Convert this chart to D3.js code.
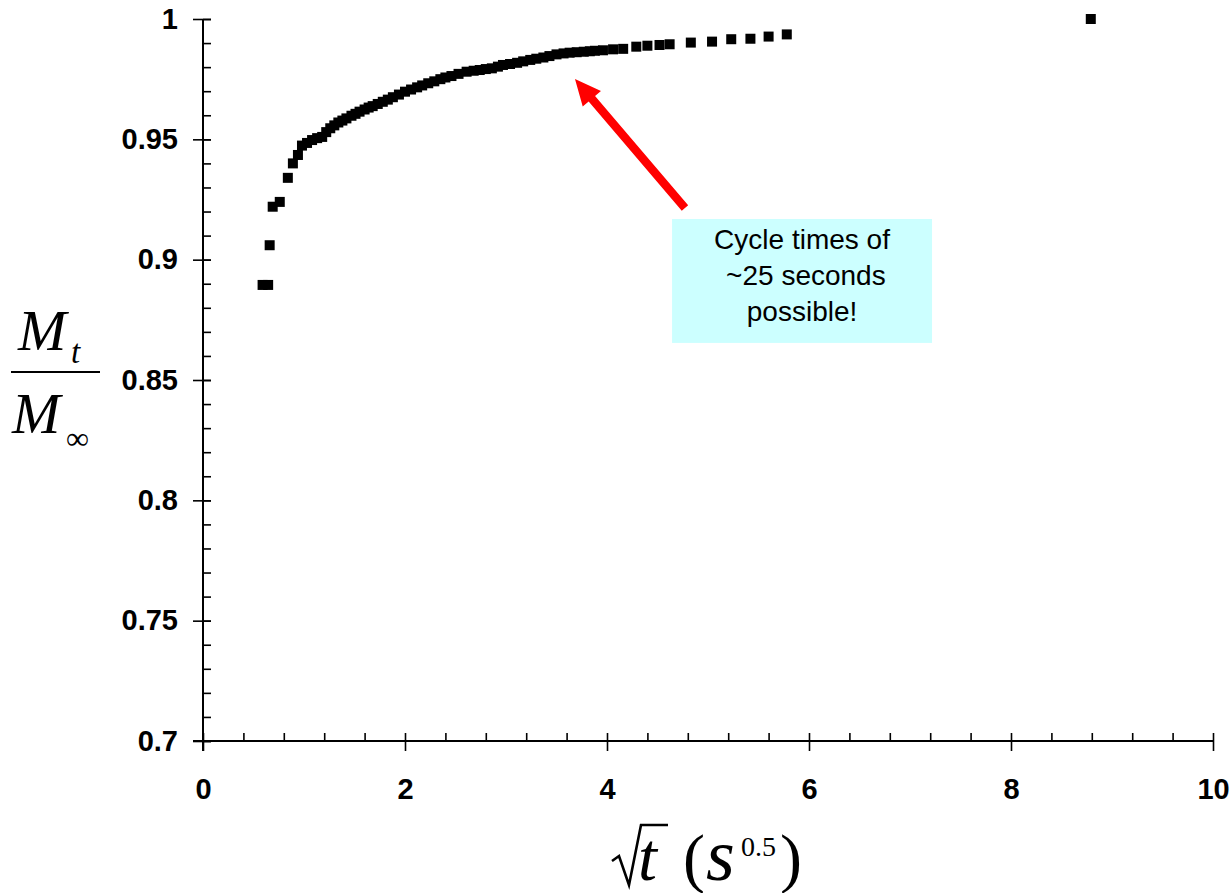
<!DOCTYPE html>
<html>
<head>
<meta charset="utf-8">
<script src="https://cdn.jsdelivr.net/npm/d3@7"></script>
<style>
  body { margin: 0; background: #fff; }
  .tickText { font-family: "Liberation Sans", Arial, sans-serif; font-weight: bold; font-size: 29px; fill: #000; }
  .note { font-family: "Liberation Sans", Arial, sans-serif; font-size: 28px; fill: #000; white-space: pre; }
  .math { font-family: "Liberation Serif", "Times New Roman", serif; fill: #000; }
</style>
</head>
<body>
<div id="chart"></div>
<script>
// sqrt(t) readings (s^0.5)
var sqrtT = [0.59, 0.645, 0.66, 0.69, 0.76, 0.84, 0.89, 0.94, 0.98, 1.03,
  1.08, 1.13, 1.18, 1.22, 1.26, 1.30, 1.34, 1.38, 1.42, 1.47,
  1.51, 1.55, 1.60, 1.64, 1.68, 1.73, 1.78, 1.83, 1.88, 1.94,
  2.00, 2.06, 2.12, 2.17, 2.23, 2.29, 2.35, 2.40, 2.46, 2.53,
  2.61, 2.68, 2.74, 2.80, 2.86, 2.92, 2.97, 3.04, 3.11, 3.17,
  3.24, 3.30, 3.37, 3.43, 3.50, 3.57, 3.63, 3.70, 3.77, 3.83,
  3.88, 3.96, 4.06, 4.16, 4.29, 4.40, 4.52, 4.62, 4.83, 5.04,
  5.23, 5.42, 5.60, 5.78, 8.79];

// Mt / Minf readings
var fracUptake = [0.8895, 0.8895, 0.906, 0.922, 0.924, 0.934, 0.940, 0.9435, 0.9474, 0.9485,
  0.9497, 0.9505, 0.951, 0.953, 0.9546, 0.9558, 0.957, 0.9578, 0.9587, 0.9598,
  0.9606, 0.9615, 0.9624, 0.9632, 0.9638, 0.9647, 0.9656, 0.9665, 0.9675, 0.9686,
  0.9698, 0.9707, 0.9716, 0.9724, 0.9733, 0.9741, 0.975, 0.9757, 0.9763, 0.9772,
  0.9781, 0.9785, 0.9788, 0.9792, 0.9795, 0.9802, 0.9809, 0.9813, 0.9818, 0.9824,
  0.983, 0.9835, 0.984, 0.9846, 0.9853, 0.9857, 0.986, 0.9862, 0.9864, 0.9866,
  0.9868, 0.987, 0.9874, 0.9876, 0.9885, 0.9889, 0.9892, 0.9895, 0.9902, 0.9906,
  0.9916, 0.9918, 0.9927, 0.9936, 1.0];

// ticks
var xMajor = [0, 2, 4, 6, 8, 10];
var xLabels = ["0", "2", "4", "6", "8", "10"];
var yMajor = [0.7, 0.75, 0.8, 0.85, 0.9, 0.95, 1];
var yLabels = ["0.7", "0.75", "0.8", "0.85", "0.9", "0.95", "1"];

// annotation text
var noteLines = ["Cycle times of", " ~25 seconds", "possible!"];

var width = 1230;
var height = 893;

var svg = d3.select("#chart")
  .append("svg")
  .attr("width", width)
  .attr("height", height);

var xScale = d3.scaleLinear().domain([0, 10]).range([203, 1213]);
var yScale = d3.scaleLinear().domain([0.7, 1]).range([741, 19]);

// minor ticks every 0.4 on x, every 0.01 on y
var xMinor = d3.range(0, 25.5).map(function(i) { return +(i * 0.4).toFixed(2); });
var yMinor = d3.range(0, 30.5).map(function(i) { return +(0.7 + i * 0.01).toFixed(3); });

function styleAxis(g) {
  g.select(".domain").remove();
  g.selectAll(".tick line").attr("stroke", "#000").attr("stroke-width", 1.6);
}

// x axis: minor ticks upward
svg.append("g")
  .attr("transform", "translate(0," + yScale(0.7) + ")")
  .call(d3.axisTop(xScale).tickValues(xMinor).tickSize(8).tickFormat(""))
  .call(styleAxis);

// x axis: major ticks downward with labels
var xAxisG = svg.append("g")
  .attr("transform", "translate(0," + yScale(0.7) + ")")
  .call(d3.axisBottom(xScale).tickValues(xMajor).tickSize(10).tickPadding(27)
    .tickFormat(function(d, i) { return xLabels[i]; }))
  .call(styleAxis);
xAxisG.selectAll("text").attr("class", "tickText").attr("font-size", null).attr("font-family", null);

// y axis: minor ticks to the right
svg.append("g")
  .attr("transform", "translate(" + xScale(0) + ",0)")
  .call(d3.axisRight(yScale).tickValues(yMinor).tickSize(8).tickFormat(""))
  .call(styleAxis);

// y axis: major ticks with labels
var yAxisG = svg.append("g")
  .attr("transform", "translate(" + xScale(0) + ",0)")
  .call(d3.axisLeft(yScale).tickValues(yMajor).tickSize(10).tickPadding(15)
    .tickFormat(function(d, i) { return yLabels[i]; }))
  .call(styleAxis);
yAxisG.selectAll("text").attr("class", "tickText").attr("font-size", null).attr("font-family", null);

// short right-hand part of major y ticks
svg.append("g")
  .attr("transform", "translate(" + xScale(0) + ",0)")
  .call(d3.axisRight(yScale).tickValues(yMajor).tickSize(8).tickFormat(""))
  .call(styleAxis);

// axis lines
svg.append("line")
  .attr("x1", xScale(0) - 10).attr("x2", xScale(10))
  .attr("y1", yScale(0.7)).attr("y2", yScale(0.7))
  .attr("stroke", "#000").attr("stroke-width", 2);
svg.append("line")
  .attr("x1", xScale(0)).attr("x2", xScale(0))
  .attr("y1", yScale(1)).attr("y2", yScale(0.7) + 10)
  .attr("stroke", "#000").attr("stroke-width", 2);

// data squares
var sq = 10;
svg.append("g")
  .selectAll("rect")
  .data(sqrtT)
  .enter()
  .append("rect")
  .attr("x", function(d) { return xScale(d) - sq / 2; })
  .attr("y", function(d, i) { return yScale(fracUptake[i]) - sq / 2; })
  .attr("width", sq)
  .attr("height", sq)
  .attr("fill", "#000");

// annotation box
var boxX0 = xScale(4.644), boxX1 = xScale(7.218);
var boxY0 = yScale(0.9169), boxY1 = yScale(0.8654);
svg.append("rect")
  .attr("x", boxX0).attr("y", boxY0)
  .attr("width", boxX1 - boxX0).attr("height", boxY1 - boxY0)
  .attr("fill", "#ccffff");

svg.append("g")
  .selectAll("text")
  .data(noteLines)
  .enter()
  .append("text")
  .attr("class", "note")
  .attr("x", (boxX0 + boxX1) / 2)
  .attr("y", function(d, i) { return boxY0 + 30 + i * 36; })
  .attr("text-anchor", "middle")
  .text(function(d) { return d; });

// red arrow
var tip = [xScale(3.683), yScale(0.9751)];
var tail = [xScale(4.772), yScale(0.9215)];
var dx = tail[0] - tip[0], dy = tail[1] - tip[1];
var len = Math.sqrt(dx * dx + dy * dy);
var ux = dx / len, uy = dy / len;
var headLen = 26, headHalf = 12, shaftHalf = 4.2;
var bx = tip[0] + ux * headLen, by = tip[1] + uy * headLen;
var arrowPts = [
  [tip[0], tip[1]],
  [bx - uy * headHalf, by + ux * headHalf],
  [bx - uy * shaftHalf, by + ux * shaftHalf],
  [tail[0] - uy * shaftHalf, tail[1] + ux * shaftHalf],
  [tail[0] + uy * shaftHalf, tail[1] - ux * shaftHalf],
  [bx + uy * shaftHalf, by - ux * shaftHalf],
  [bx + uy * headHalf, by - ux * headHalf]
];
svg.append("path")
  .attr("d", d3.line()(arrowPts) + "Z")
  .attr("fill", "#ff0000");

// y label: Mt / Minf
var yLab = svg.append("g").attr("class", "math");
yLab.append("text").attr("x", 18).attr("y", 350)
  .attr("font-size", 58).attr("font-style", "italic").text("M");
yLab.append("text").attr("x", 71).attr("y", 363)
  .attr("font-size", 33).attr("font-style", "italic").text("t");
yLab.append("line")
  .attr("x1", 11).attr("x2", 100).attr("y1", 372).attr("y2", 372)
  .attr("stroke", "#000").attr("stroke-width", 2.2);
yLab.append("text").attr("x", 12).attr("y", 433)
  .attr("font-size", 58).attr("font-style", "italic").text("M");
yLab.append("text").attr("x", 66).attr("y", 449)
  .attr("font-size", 32).text("\u221e");

// x label: sqrt(t) (s^0.5)
var xLab = svg.append("g").attr("class", "math");
xLab.append("path")
  .attr("d", "M612,861 L619,856 L629,885 L641,825 L668,825")
  .attr("fill", "none")
  .attr("stroke", "#000")
  .attr("stroke-width", 2.6)
  .attr("stroke-linejoin", "miter");
xLab.append("text").attr("x", 638).attr("y", 880)
  .attr("font-size", 68).attr("font-style", "italic").text("t");
xLab.append("text").attr("x", 683).attr("y", 880)
  .attr("font-size", 66).text("(");
xLab.append("text").attr("x", 706).attr("y", 880)
  .attr("font-size", 74).attr("font-style", "italic").text("s");
xLab.append("text").attr("x", 741).attr("y", 856)
  .attr("font-size", 28).text("0.5");
xLab.append("text").attr("x", 780).attr("y", 880)
  .attr("font-size", 66).text(")");
</script>
</body>
</html>
